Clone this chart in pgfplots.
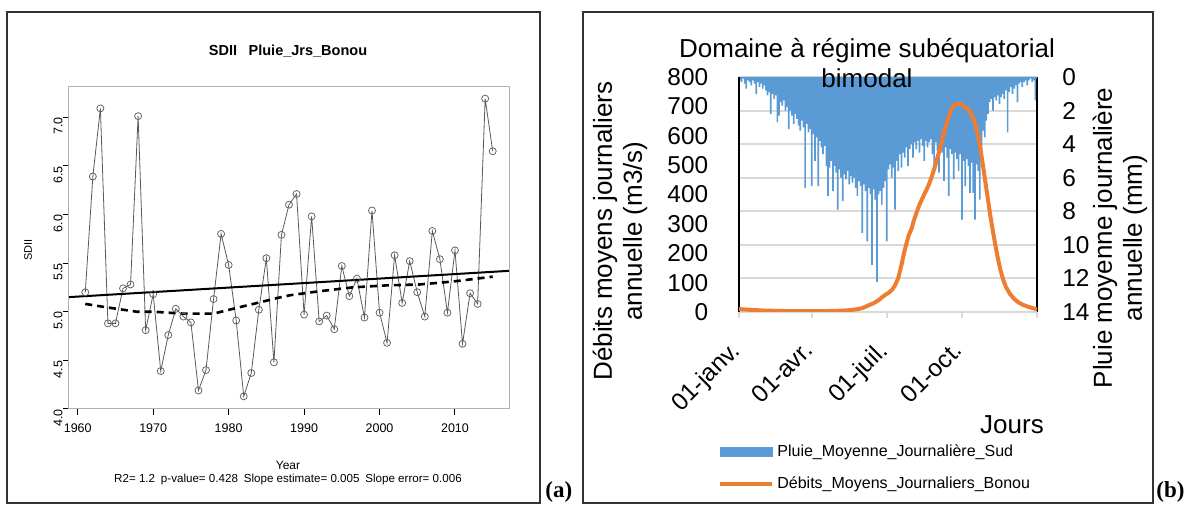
\documentclass[border=0pt]{standalone}
\usepackage{fontspec}
\setmainfont{Liberation Sans}
\newfontfamily\tnr{Liberation Serif}
\usepackage{pgfplots}
\usepackage{pgfplotstable}
\pgfplotsset{compat=1.18}

\definecolor{rainblue}{HTML}{5B9BD5}
\definecolor{flowor}{HTML}{ED7D31}
\definecolor{gridg}{HTML}{D9D9D9}

% SDII, Pluie_Jrs_Bonou
\pgfplotstableread{
year sdii
1961 5.20
1962 6.39
1963 7.09
1964 4.88
1965 4.88
1966 5.24
1967 5.28
1968 7.01
1969 4.81
1970 5.18
1971 4.39
1972 4.76
1973 5.03
1974 4.95
1975 4.89
1976 4.19
1977 4.40
1978 5.13
1979 5.80
1980 5.48
1981 4.91
1982 4.13
1983 4.37
1984 5.02
1985 5.55
1986 4.48
1987 5.79
1988 6.10
1989 6.21
1990 4.97
1991 5.98
1992 4.90
1993 4.96
1994 4.82
1995 5.47
1996 5.16
1997 5.34
1998 4.94
1999 6.04
2000 4.99
2001 4.68
2002 5.58
2003 5.09
2004 5.52
2005 5.20
2006 4.95
2007 5.83
2008 5.54
2009 4.99
2010 5.63
2011 4.67
2012 5.19
2013 5.08
2014 7.19
2015 6.65
}\sdii

% lissage (lowess)
\pgfplotstableread{
year v
1961 5.08
1963.4 5.05
1967.8 5.00
1970 5.00
1974 4.98
1978 4.98
1981.1 5.04
1983.8 5.09
1986.4 5.14
1988.2 5.17
1992 5.21
1996.4 5.25
2000.8 5.27
2005.3 5.28
2009.7 5.31
2015 5.36
}\lowess

% pluie moyenne journaliere (mm)
\pgfplotstableread{
day rain
1 0.2
3 0.3
5 0.1
7 0.4
9 0.7
11 0.2
13 0.3
15 0.5
17 0.2
19 0.4
21 1.0
23 0.3
25 0.6
27 0.4
29 0.7
31 0.5
33 0.8
35 1.1
37 0.9
39 2.2
41 1.0
43 1.3
45 1.1
47 2.7
49 2.3
51 1.5
53 1.7
55 1.4
57 2.0
59 1.8
61 3.1
63 2.0
65 2.3
67 2.8
69 2.2
71 2.5
73 2.9
75 3.2
77 2.6
79 3.0
81 6.6
83 2.8
85 3.3
87 3.1
89 6.5
91 3.4
93 5.0
95 3.6
97 6.5
99 3.8
101 4.2
103 4.6
105 4.1
107 5.3
109 7.1
111 5.4
113 5.0
115 6.8
117 5.3
119 5.7
121 7.9
123 5.5
125 6.0
127 7.4
129 5.8
131 6.1
133 5.6
135 6.4
137 5.9
139 6.3
141 6.0
143 6.6
145 7.1
147 6.2
149 6.5
151 9.3
153 6.4
155 6.8
157 9.8
159 6.6
161 7.0
163 11.2
165 6.7
167 7.3
169 12.2
171 7.0
173 6.8
175 7.6
177 6.6
179 6.2
181 9.8
183 5.5
185 5.2
187 6.0
189 5.4
191 7.9
193 5.0
195 5.6
197 4.6
199 5.4
201 4.5
203 4.8
205 4.2
207 5.3
209 4.3
211 4.0
213 4.8
215 3.9
217 4.3
219 3.8
221 4.5
223 3.7
225 4.1
227 5.0
229 3.8
231 4.2
233 3.9
235 3.7
237 4.6
239 5.3
241 3.9
243 4.4
245 5.7
247 4.0
249 4.5
251 6.2
253 4.2
255 4.8
257 7.1
259 4.3
261 4.6
263 6.1
265 4.5
267 4.9
269 5.6
271 4.6
273 8.5
275 5.0
277 6.5
279 4.9
281 5.3
283 6.9
285 5.1
287 6.9
289 8.5
291 5.2
293 5.6
295 7.3
297 4.8
299 3.2
301 3.6
303 2.6
305 2.2
307 1.5
309 1.3
311 2.0
313 1.2
315 1.4
317 1.1
319 1.6
321 1.2
323 1.0
325 1.3
327 0.8
329 3.3
331 0.9
333 0.6
335 1.0
337 0.7
339 0.5
341 1.5
343 0.4
345 0.3
347 0.6
349 0.3
351 0.2
353 0.5
355 0.2
357 0.1
359 0.3
361 0.2
363 1.4
365 0.1
}\rain

% debits moyens journaliers (m3/s)
\pgfplotstableread{
day q
0 10
15 7
30 5
45 4
60 3
75 3
90 3
105 3
120 4
135 6
146 10
152 14
158 22
165 30
171 40
175 50
179 58
183 65
187 74
191 90
195 115
199 160
202 200
205 232
208 262
211.5 285
214 310
217.7 340
221 365
225.8 394
229 412
232 430
236 460
240 495
244 535
248 574
251 610
254.4 642
257.5 670
260.5 693
263.5 703
266.6 708
269.5 709
272.7 705
276 700
280.9 690
284 677
287 659
290 632
293 597
296 550
299 495
302 438
305 381
308 325
311.4 268
314.5 220
317.5 177
320.5 140
323.7 109
327 85
332 61
337 45
342 33
348 24
354 18
360 13
365 9
}\debit

\begin{document}
\begin{tikzpicture}
\useasboundingbox (0,0) rectangle (592pt,253pt);

% ---------------- (a) ----------------
\draw[line width=0.8pt, black!80] (3.5pt,1.5pt) rectangle (270pt,247pt);
\begin{axis}[
  at={(34.5pt,48.5pt)}, anchor=south west,
  scale only axis, width=220pt, height=161pt,
  xmin=1958.84, xmax=2017.16, ymin=4.0, ymax=7.31,
  xtick={1960,1970,...,2010}, ytick={4,4.5,...,7},
  axis line style={gray!60, line width=0.5pt},
  tick style={black, line width=0.5pt},
  tick align=outside, major tick length=3pt,
  xtick pos=bottom, ytick pos=left,
  /pgf/number format/assume math mode=true,
  ticklabel style={font=\fontsize{6.25}{7}\selectfont, inner sep=0pt},
  xticklabel style={/pgf/number format/1000 sep={}, yshift=-4pt},
  yticklabel style={rotate=90, anchor=south, xshift=-4.5pt,
    /pgf/number format/.cd, fixed, fixed zerofill, precision=1},
]
\addplot[gray!70!black, line width=0.4pt, mark=o, mark size=1.75pt,
  mark options={fill=white, draw=gray!80!black, line width=0.4pt}]
  table[x=year, y=sdii]{\sdii};
\addplot[black, line width=1pt] coordinates {(1958.84,5.15) (2017.16,5.42)};
\addplot[black, line width=1.3pt, dash pattern=on 3.5pt off 2.5pt]
  table[x=year, y=v]{\lowess};
\end{axis}
\node[font=\fontsize{7.25}{8}\selectfont\bfseries] at (144pt,227.5pt)
  {SDII\hspace{0.8em}Pluie\_Jrs\_Bonou};
\node[font=\fontsize{5.5}{6}\selectfont, rotate=90] at (14pt,128pt) {SDII};
\node[font=\fontsize{6}{7}\selectfont] at (144pt,20.5pt) {Year};
\node[font=\fontsize{5.8}{7}\selectfont] at (144pt,13pt)
  {R2= 1.2\enspace p-value= 0.428\enspace Slope estimate= 0.005\enspace Slope error= 0.006};
\node[font=\fontsize{11.5}{12}\selectfont\tnr\bfseries, anchor=base west, inner sep=0pt]
  at (272.5pt,4pt) {(a)};

% ---------------- (b) ----------------
\draw[line width=0.8pt, black!80] (291.5pt,1.5pt) rectangle (576.5pt,247pt);
% pluie, axe secondaire inverse
\begin{axis}[
  at={(369.5pt,97pt)}, anchor=south west,
  scale only axis, width=149pt, height=117.5pt,
  xmin=0, xmax=365, ymin=0, ymax=14, y dir=reverse,
  axis x line=none, axis y line*=right,
  axis line style={-},
  y axis line style={black, line width=0.75pt},
  ytick={0,2,...,14}, ymajorgrids,
  grid style={gridg, line width=1pt},
  major tick length=0pt,
  /pgf/number format/assume math mode=true,
  yticklabel style={font=\fontsize{12.2}{13}\selectfont, anchor=west, inner sep=0pt, xshift=12.5pt},
]
\addplot[ybar, bar width=2.1, fill=rainblue, draw=none] table[x=day, y=rain]{\rain};
\end{axis}
% debits
\begin{axis}[
  at={(369.5pt,97pt)}, anchor=south west,
  scale only axis, width=149pt, height=117.5pt,
  xmin=0, xmax=365, ymin=0, ymax=800,
  axis y line*=left, axis x line*=bottom,
  axis line style={-},
  x axis line style={gridg, line width=1pt},
  y axis line style={black, line width=0.75pt},
  xtick={0,90,181,273,365},
  xticklabels={01-janv.,01-avr.,01-juil.,01-oct.,},
  ytick={0,100,...,800},
  xtick style={gridg, line width=1pt},
  ytick style={draw=none},
  tick align=outside, major tick length=3.2pt,
  /pgf/number format/assume math mode=true,
  yticklabel style={font=\fontsize{12.2}{13}\selectfont, anchor=east, inner sep=0pt, xshift=-12pt},
  xticklabel style={font=\fontsize{12.2}{13}\selectfont, rotate=45, anchor=north east, inner sep=0pt, xshift=-11pt, yshift=-3.7pt},
  legend style={at={(rel axis cs:-0.0705,-0.55)}, anchor=north west,
    draw=none, fill=none, inner sep=0pt, row sep=5.5pt,
    font=\fontsize{8}{9.6}\selectfont,
    nodes={inner sep=1.5pt}},
  legend cell align=left,
]
\addlegendimage{legend image code/.code={\fill[rainblue] (0pt,-2.25pt) rectangle (26pt,2.25pt);}}
\addlegendentry{Pluie\_Moyenne\_Journalière\_Sud}
\addplot[flowor, line width=2pt, line join=round,
  legend image code/.code={\draw[flowor, line width=2pt] (0pt,0pt) -- (26pt,0pt);}]
  table[x=day, y=q]{\debit};
\addlegendentry{Débits\_Moyens\_Journaliers\_Bonou}
\end{axis}
\node[font=\fontsize{13}{15}\selectfont, align=center] at (433.5pt,221.5pt)
  {Domaine à régime subéquatorial\\bimodal};
\node[font=\fontsize{13}{15}\selectfont, align=center, rotate=90] at (310pt,137.5pt)
  {Débits moyens journaliers\\annuelle (m3/s)};
\node[font=\fontsize{13}{15}\selectfont, align=center, rotate=90] at (560pt,134pt)
  {Pluie moyenne journalière\\annuelle (mm)};
\node[font=\fontsize{13}{15}\selectfont] at (506pt,40.5pt) {Jours};
\node[font=\fontsize{11.5}{12}\selectfont\tnr\bfseries, anchor=base west, inner sep=0pt]
  at (578pt,4pt) {(b)};
\end{tikzpicture}
\end{document}
